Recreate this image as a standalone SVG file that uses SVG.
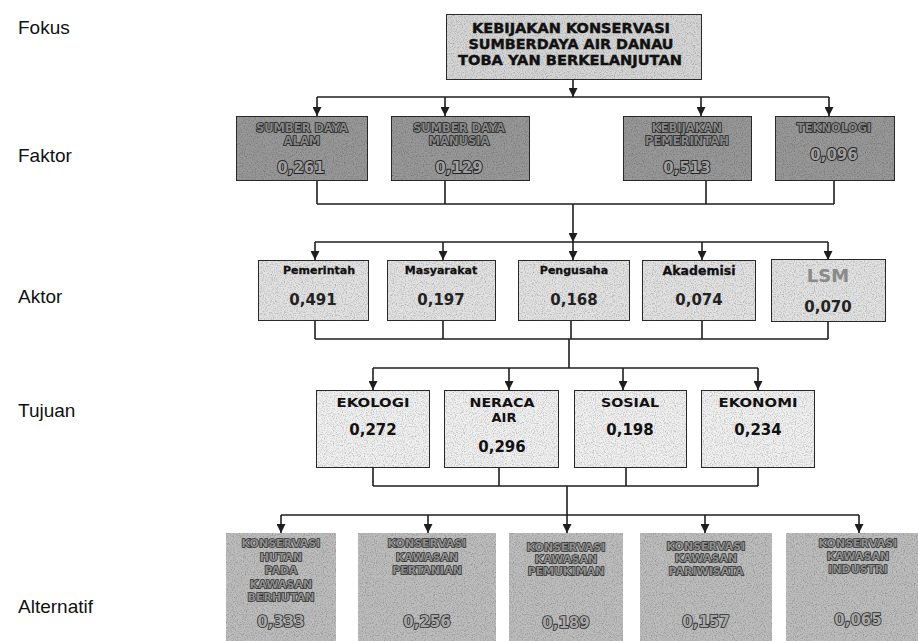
<svg xmlns="http://www.w3.org/2000/svg" width="918" height="641" viewBox="0 0 918 641">
<style>
.lbl{font-family:"Liberation Sans",Arial,sans-serif;font-size:19px;fill:#111}
.bx{stroke:#2a2a2a;stroke-width:2}
.top{fill:#d6d6d6}
.fak{fill:#989898}
.akt{fill:#e2e2e2}
.tuj{fill:#f0f0f0}
.alt{fill:#bdbdbd}
.t{font-family:"DejaVu Sans",Verdana,sans-serif;font-weight:bold;text-anchor:middle}
.tt{font-size:13.5px;fill:#111;stroke:#111;stroke-width:0.4}
.ft{font-size:11.5px;fill:#858585;stroke:#1e1e1e;stroke-width:1.5;paint-order:stroke}
.fv{font-size:15px;fill:#a0a0a0;stroke:#222;stroke-width:1.8;paint-order:stroke}
.an{font-size:11px;fill:#111;stroke:#111;stroke-width:0.3}
.av{font-size:15px;fill:#222}
.lsm{font-size:18px;fill:#8a8a8a}
.tn{font-size:13px;fill:#111}
.tv{font-size:15px;fill:#111}
.xt{font-size:11px;fill:#8e8e8e;stroke:#2a2a2a;stroke-width:1.4;paint-order:stroke}
.xv{font-size:15px;fill:#a8a8a8;stroke:#2e2e2e;stroke-width:1.7;paint-order:stroke}
.c{fill:none;stroke:#1e1e1e;stroke-width:1.6}
</style>
<defs>
<marker id="ah" viewBox="0 0 10 10" refX="10" refY="5" markerWidth="9" markerHeight="9" orient="auto" markerUnits="userSpaceOnUse"><path d="M0,0 L10,5 L0,10 z" fill="#1e1e1e"/></marker>
<filter id="grain" x="0" y="0" width="1" height="1" color-interpolation-filters="sRGB">
<feTurbulence type="fractalNoise" baseFrequency="0.9" numOctaves="2" seed="5" result="t"/>
<feColorMatrix in="t" type="saturate" values="0" result="g"/>
<feComponentTransfer in="g" result="c"><feFuncR type="linear" slope="0.7" intercept="0.62"/><feFuncG type="linear" slope="0.7" intercept="0.62"/><feFuncB type="linear" slope="0.7" intercept="0.62"/><feFuncA type="linear" slope="0" intercept="1"/></feComponentTransfer>
<feBlend in="SourceGraphic" in2="c" mode="multiply" result="b"/>
<feComposite in="b" in2="SourceGraphic" operator="in"/>
</filter>
</defs>
<rect width="918" height="641" fill="#fff"/>

<g id="labels">
<text class="lbl" x="18" y="34">Fokus</text>
<text class="lbl" x="18" y="162">Faktor</text>
<text class="lbl" x="18" y="303">Aktor</text>
<text class="lbl" x="18" y="417">Tujuan</text>
<text class="lbl" x="18" y="613">Alternatif</text>
</g>

<g id="connectors">
<path class="c" d="M573,80 V97" marker-end="url(#ah)"/>
<path class="c" d="M317,97 H829"/>
<path class="c" d="M317,97 V116" marker-end="url(#ah)"/>
<path class="c" d="M445,97 V116" marker-end="url(#ah)"/>
<path class="c" d="M701,97 V116" marker-end="url(#ah)"/>
<path class="c" d="M829,97 V116" marker-end="url(#ah)"/>

<path class="c" d="M317,181 V204 M445,181 V204 M706,181 V204 M834,181 V204 M317,204 H834"/>
<path class="c" d="M573,204 V242" marker-end="url(#ah)"/>
<path class="c" d="M315,242 H828"/>
<path class="c" d="M315,242 V260" marker-end="url(#ah)"/>
<path class="c" d="M443,242 V260" marker-end="url(#ah)"/>
<path class="c" d="M573,242 V260" marker-end="url(#ah)"/>
<path class="c" d="M702,242 V260" marker-end="url(#ah)"/>
<path class="c" d="M828,242 V260" marker-end="url(#ah)"/>

<path class="c" d="M315,321 V339 M443,321 V339 M571,321 V339 M702,321 V339 M828,321 V339 M315,339 H828 M569,339 V368 M373,368 H758"/>
<path class="c" d="M373,368 V390" marker-end="url(#ah)"/>
<path class="c" d="M509,368 V390" marker-end="url(#ah)"/>
<path class="c" d="M623,368 V390" marker-end="url(#ah)"/>
<path class="c" d="M758,368 V390" marker-end="url(#ah)"/>

<path class="c" d="M373,468 V486 M499,468 V486 M626,468 V486 M758,468 V486 M373,486 H758 M567,486 V515 M281,515 H859"/>
<path class="c" d="M281,515 V533" marker-end="url(#ah)"/>
<path class="c" d="M428,515 V533" marker-end="url(#ah)"/>
<path class="c" d="M567,515 V533" marker-end="url(#ah)"/>
<path class="c" d="M705,515 V533" marker-end="url(#ah)"/>
<path class="c" d="M859,515 V533" marker-end="url(#ah)"/>
</g>

<g id="fokus">
<rect class="bx top" x="446" y="14" width="256" height="66" filter="url(#grain)"/>
<text class="t tt" x="571" y="33" textLength="198" lengthAdjust="spacingAndGlyphs">KEBIJAKAN KONSERVASI</text>
<text class="t tt" x="571" y="49" textLength="205" lengthAdjust="spacingAndGlyphs">SUMBERDAYA AIR DANAU</text>
<text class="t tt" x="570" y="65" textLength="224" lengthAdjust="spacingAndGlyphs">TOBA YAN BERKELANJUTAN</text>
</g>

<g id="faktor-sda">
<rect class="bx fak" x="236" y="116" width="132" height="65" filter="url(#grain)"/>
<text class="t ft" x="302" y="132">SUMBER DAYA</text>
<text class="t ft" x="302" y="145">ALAM</text>
<text class="t fv" x="301" y="173">0,261</text>
</g>
<g id="faktor-sdm">
<rect class="bx fak" x="391" y="116" width="139" height="65" filter="url(#grain)"/>
<text class="t ft" x="459" y="132">SUMBER DAYA</text>
<text class="t ft" x="459" y="145">MANUSIA</text>
<text class="t fv" x="459" y="173">0,129</text>
</g>
<g id="faktor-kebijakan">
<rect class="bx fak" x="623" y="116" width="129" height="65" filter="url(#grain)"/>
<text class="t ft" x="687" y="132">KEBIJAKAN</text>
<text class="t ft" x="687" y="145">PEMERINTAH</text>
<text class="t fv" x="687" y="173">0,513</text>
</g>
<g id="faktor-teknologi">
<rect class="bx fak" x="775" y="116" width="120" height="65" filter="url(#grain)"/>
<text class="t ft" x="834" y="132">TEKNOLOGI</text>
<text class="t fv" x="834" y="160">0,096</text>
</g>

<g id="aktor-pemerintah">
<rect class="bx akt" x="258" y="260" width="111" height="61" filter="url(#grain)"/>
<text class="t an" x="319" y="274">Pemerintah</text>
<text class="t av" x="313" y="305">0,491</text>
</g>
<g id="aktor-masyarakat">
<rect class="bx akt" x="387" y="260" width="109" height="61" filter="url(#grain)"/>
<text class="t an" x="441" y="274">Masyarakat</text>
<text class="t av" x="441" y="305">0,197</text>
</g>
<g id="aktor-pengusaha">
<rect class="bx akt" x="518" y="260" width="112" height="61" filter="url(#grain)"/>
<text class="t an" x="574" y="274">Pengusaha</text>
<text class="t av" x="574" y="305">0,168</text>
</g>
<g id="aktor-akademisi">
<rect class="bx akt" x="642" y="260" width="114" height="61" filter="url(#grain)"/>
<text class="t an" x="699" y="275" style="font-size:12.5px">Akademisi</text>
<text class="t av" x="699" y="305">0,074</text>
</g>
<g id="aktor-lsm">
<rect class="bx akt" x="771" y="259" width="115" height="63" filter="url(#grain)"/>
<text class="t lsm" x="828" y="282">LSM</text>
<text class="t av" x="828" y="312">0,070</text>
</g>

<g id="tujuan-ekologi">
<rect class="bx tuj" x="316" y="390" width="114" height="78" filter="url(#grain)"/>
<text class="t tn" x="373" y="407" textLength="73" lengthAdjust="spacingAndGlyphs">EKOLOGI</text>
<text class="t tv" x="373" y="435">0,272</text>
</g>
<g id="tujuan-neraca">
<rect class="bx tuj" x="444" y="390" width="115" height="78" filter="url(#grain)"/>
<text class="t tn" x="502" y="407" textLength="65" lengthAdjust="spacingAndGlyphs">NERACA</text>
<text class="t tn" x="504" y="422">AIR</text>
<text class="t tv" x="502" y="452">0,296</text>
</g>
<g id="tujuan-sosial">
<rect class="bx tuj" x="574" y="390" width="113" height="78" filter="url(#grain)"/>
<text class="t tn" x="630" y="407" textLength="58" lengthAdjust="spacingAndGlyphs">SOSIAL</text>
<text class="t tv" x="630" y="435">0,198</text>
</g>
<g id="tujuan-ekonomi">
<rect class="bx tuj" x="701" y="390" width="114" height="78" filter="url(#grain)"/>
<text class="t tn" x="758" y="407" textLength="79" lengthAdjust="spacingAndGlyphs">EKONOMI</text>
<text class="t tv" x="758" y="435">0,234</text>
</g>

<g id="alt-hutan">
<rect class="alt" x="226" y="533" width="110" height="112" filter="url(#grain)"/>
<text class="t xt" x="281" y="547">KONSERVASI</text>
<text class="t xt" x="281" y="561">HUTAN</text>
<text class="t xt" x="281" y="574">PADA</text>
<text class="t xt" x="281" y="588">KAWASAN</text>
<text class="t xt" x="281" y="601">BERHUTAN</text>
<text class="t xv" x="281" y="627">0,333</text>
</g>
<g id="alt-pertanian">
<rect class="alt" x="358" y="533" width="138" height="112" filter="url(#grain)"/>
<text class="t xt" x="427" y="547">KONSERVASI</text>
<text class="t xt" x="427" y="561">KAWASAN</text>
<text class="t xt" x="427" y="574">PERTANIAN</text>
<text class="t xv" x="427" y="627">0,256</text>
</g>
<g id="alt-pemukiman">
<rect class="alt" x="509" y="533" width="114" height="112" filter="url(#grain)"/>
<text class="t xt" x="566" y="551">KONSERVASI</text>
<text class="t xt" x="566" y="563">KAWASAN</text>
<text class="t xt" x="566" y="575">PEMUKIMAN</text>
<text class="t xv" x="566" y="628">0,189</text>
</g>
<g id="alt-pariwisata">
<rect class="alt" x="640" y="533" width="132" height="112" filter="url(#grain)"/>
<text class="t xt" x="706" y="550">KONSERVASI</text>
<text class="t xt" x="706" y="562">KAWASAN</text>
<text class="t xt" x="706" y="575">PARIWISATA</text>
<text class="t xv" x="706" y="627">0,157</text>
</g>
<g id="alt-industri">
<rect class="alt" x="786" y="533" width="140" height="112" filter="url(#grain)"/>
<text class="t xt" x="858" y="547">KONSERVASI</text>
<text class="t xt" x="858" y="560">KAWASAN</text>
<text class="t xt" x="858" y="573">INDUSTRI</text>
<text class="t xv" x="858" y="625">0,065</text>
</g>
</svg>
